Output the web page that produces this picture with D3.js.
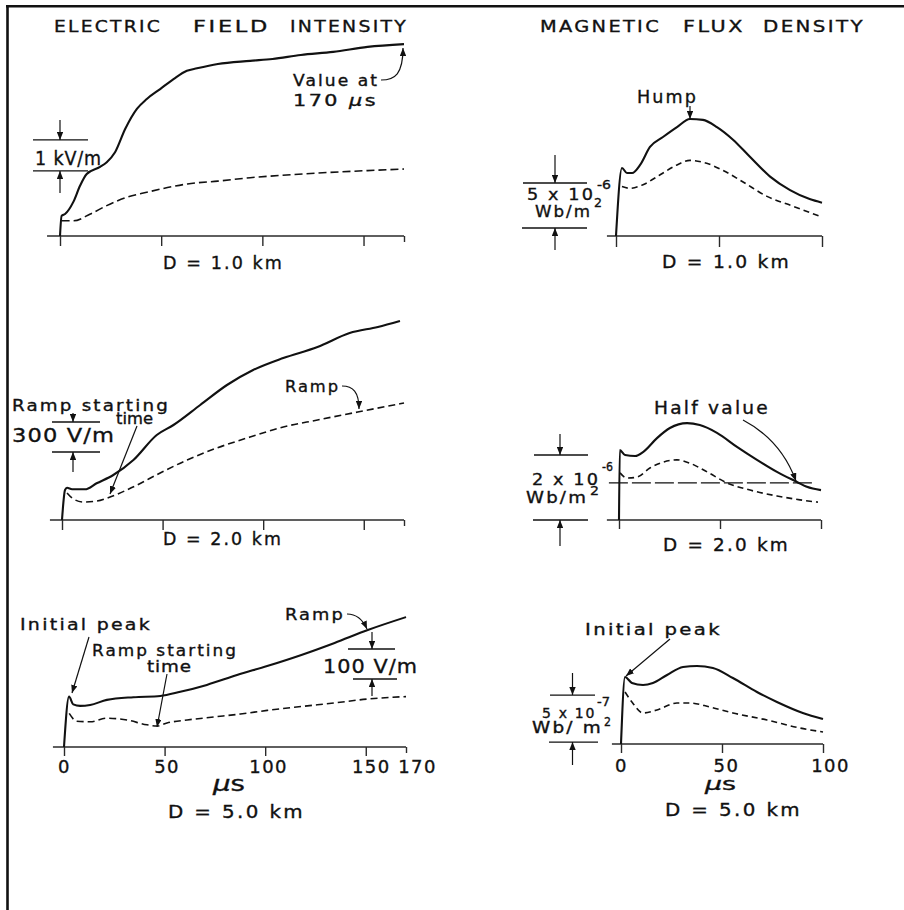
<!DOCTYPE html>
<html>
<head>
<meta charset="utf-8">
<script src="https://cdn.jsdelivr.net/npm/d3@7"></script>
<style>
  html, body { margin: 0; padding: 0; background: #fff; }
  svg { display: block; }
  text { font-family: "DejaVu Sans", "Liberation Sans", sans-serif; fill: #111; stroke: #111; stroke-width: 0.35px; }
</style>
</head>
<body>
<svg id="chart" width="904" height="910"></svg>
<script>
// ---------- time axes (µs) ----------
const eTicks = [0, 50, 100, 150, 170];
const bTicks = [0, 50, 100];
const eTickLabels = ["0", "50", "100", "150", "170"];
const bTickLabels = ["0", "50", "100"];

// ---------- electric field intensity, [time µs, field] ----------
// D = 1.0 km, kV/m
const eField1kmSolid = [[0,0],[0.8,0.65],[2.5,0.71],[6.6,1.10],[9.9,1.62],[13.2,2.0],[19.8,2.23],[23.1,2.38],[27.2,2.70],[32.2,3.45],[38,4.10],[42.9,4.42],[49.5,4.74],[56.1,5.06],[62.7,5.33],[67.7,5.41],[78,5.55],[94,5.65],[105,5.71],[119,5.84],[135,5.94],[152,6.10],[170,6.19]];
const eField1kmDashed = [[0.8,0.49],[6.6,0.49],[15,0.71],[23.1,0.98],[33,1.25],[42.9,1.41],[56,1.60],[63,1.68],[78,1.77],[94,1.88],[110,1.96],[127,2.03],[152,2.11],[170,2.16]];
// D = 2.0 km, V/m
const eField2kmSolid = [[0,0],[1.5,300],[2.5,322],[5,308],[11.4,307],[17.2,367],[25.5,450],[35.5,600],[47.1,850],[55.4,950],[68.7,1150],[82,1350],[95,1500],[110,1620],[127,1730],[143,1870],[157,1930],[168,1990]];
const eField2kmDashed = [[2.5,270],[5,220],[10.4,180],[17.4,190],[23.9,230],[35.3,330],[48.8,470],[62.2,600],[77,720],[93.5,830],[110,930],[127,1000],[147,1080],[170,1170]];
// D = 5.0 km, V/m
const eField5kmSolid = [[0,0],[2.5,168],[4.6,142],[8,137],[13,140],[21.3,157],[34.5,166],[47.9,170],[57.8,184],[71,207],[86,240],[101,270],[118,307],[134.5,347],[151,390],[170,433]];
const eField5kmDashed = [[2.6,112],[6.3,86],[13,84],[21.3,96],[31.3,90],[41.2,74],[46.2,70],[51.2,80],[61.2,90],[74.4,100],[87.7,110],[101,122],[118,135],[134.5,147],[151,160],[170,168]];

// ---------- magnetic flux density, [time µs, flux] ----------
// D = 1.0 km, 10^-6 Wb/m^2
const bFlux1kmSolid = [[0,0],[2.9,7.56],[5.3,7.0],[7.8,7.0],[11.7,7.9],[16.5,9.9],[22.8,11.0],[29.6,12.1],[35.9,13.0],[42.2,12.9],[49,12.1],[56.8,10.7],[65,8.8],[74.8,6.6],[84.5,5.1],[94,4.1],[100,3.7]];
const bFlux1kmDashed = [[2.9,5.5],[6.8,5.3],[13.1,5.7],[21.4,6.8],[29.6,7.9],[35.9,8.4],[42.2,8.2],[51.9,7.3],[61.7,6.0],[73.3,4.4],[86,3.3],[100,2.1]];
// D = 2.0 km, 10^-6 Wb/m^2
const bFlux2kmSolid = [[0,0],[0.4,2.15],[3,2.0],[8,1.97],[11.9,2.09],[18.8,2.52],[25.2,2.83],[33.7,2.98],[40,2.92],[48.5,2.68],[58.4,2.25],[68.3,1.85],[78.2,1.48],[88.1,1.17],[93,1.02],[100,0.92]];
const bFlux2kmDashed = [[0.5,1.45],[4,1.29],[8.9,1.32],[15.3,1.60],[21.8,1.78],[28.7,1.85],[35,1.75],[43.6,1.48],[53.5,1.14],[64.9,0.92],[78.2,0.74],[89.6,0.62],[98.5,0.55]];
const bFlux2kmHalfValue = 1.14;
// D = 5.0 km, 10^-7 Wb/m^2
const bFlux5kmSolid = [[0,0],[2,7.13],[5.4,6.5],[10.9,6.28],[15.8,6.49],[22.8,7.34],[30.7,8.19],[37.6,8.30],[45.5,8.09],[55.4,7.02],[67.3,5.53],[77.2,4.47],[90,3.30],[100,2.66]];
const bFlux5kmDashed = [[2,5.53],[5.4,4.47],[10.9,3.30],[17.8,3.62],[27.7,4.36],[34.2,4.36],[44,3.94],[55.4,3.30],[72.3,2.55],[88.6,1.70],[100,1.28]];

// ---------- scale-bar magnitudes (in each panel's unit) ----------
const eBar1km = 1;    // kV/m
const eBar2km = 300;  // V/m
const eBar5km = 100;  // V/m
const bBar1km = 5;    // x10^-6 Wb/m^2
const bBar2km = 2;    // x10^-6 Wb/m^2
const bBar5km = 5;    // x10^-7 Wb/m^2

const INK = "#111";
const svg = d3.select("#chart");

// arrowhead
svg.append("defs").append("marker")
  .attr("id", "head").attr("viewBox", "0 0 10 8")
  .attr("refX", 10).attr("refY", 4)
  .attr("markerWidth", 8).attr("markerHeight", 6.4)
  .attr("markerUnits", "userSpaceOnUse").attr("orient", "auto")
  .append("path").attr("d", "M0,0L10,4L0,8Z").attr("fill", INK);

// frame
svg.append("line").attr("x1", 7.5).attr("x2", 7.5).attr("y1", 5).attr("y2", 910)
  .attr("stroke", INK).attr("stroke-width", 2.6);
svg.append("line").attr("x1", 6).attr("x2", 904).attr("y1", 6.3).attr("y2", 6.3)
  .attr("stroke", INK).attr("stroke-width", 2.4);

// text helper: fitted to span [x0, x1] on the given baseline
function txt(parent, str, x0, x1, baseline, size, opts = {}) {
  const t = parent.append("text")
    .attr("x", x0).attr("y", baseline).attr("font-size", size)
    .attr("textLength", x1 - x0).attr("lengthAdjust", "spacingAndGlyphs")
    .style("letter-spacing", (opts.ls !== undefined ? opts.ls : 0.12) + "em")
    .style("white-space", "pre");
  t.text(str);
  if (opts.mu) {
    t.append("tspan").attr("font-style", "italic").text("\u03bc");
    t.append("tspan").text("s");
  }
  return t;
}

function arrow(parent, d, w = 1.2) {
  parent.append("path").attr("d", d).attr("fill", "none")
    .attr("stroke", INK).attr("stroke-width", w).attr("marker-end", "url(#head)");
}

// one panel: baseline, ticks, two traces
function panel(cfg) {
  const g = svg.append("g");
  const x = d3.scaleLinear().domain([0, cfg.tMax]).range(cfg.xRange);
  const y = d3.scaleLinear().domain([0, cfg.barValue]).range([cfg.base, cfg.base - cfg.barPx]);

  g.append("line")
    .attr("x1", x(cfg.axisFrom)).attr("x2", x(cfg.tMax))
    .attr("y1", cfg.base).attr("y2", cfg.base)
    .attr("stroke", "#2a2a2a").attr("stroke-width", 1.4);

  const labels = cfg.tickLabels;
  const axis = d3.axisBottom(x)
    .tickValues(cfg.ticks)
    .tickSize(cfg.tickLen)
    .tickSizeOuter(0)
    .tickFormat((d, i) => labels ? labels[i] : "");
  const ax = g.append("g").attr("transform", `translate(0,${cfg.base})`).call(axis);
  ax.select(".domain").remove();
  ax.attr("font-family", null).attr("font-size", null);
  ax.selectAll(".tick line").attr("stroke", "#2a2a2a").attr("stroke-width", 1.4);
  if (cfg.shortTick !== undefined) {
    ax.selectAll(".tick").filter(d => d === cfg.shortTick).select("line").attr("y2", 6);
  }
  ax.selectAll(".tick text")
    .attr("y", cfg.labelOffset).attr("dy", 0)
    .attr("dx", d => (cfg.labelDx && cfg.labelDx[d]) || 0)
    .attr("font-size", 18).attr("fill", INK)
    .style("letter-spacing", "0.08em");

  const line = d3.line().x(d => x(d[0])).y(d => y(d[1])).curve(d3.curveMonotoneX);
  g.append("path").datum(cfg.dashed).attr("d", line)
    .attr("fill", "none").attr("stroke", INK).attr("stroke-width", 1.6)
    .attr("stroke-dasharray", cfg.dash);
  g.append("path").datum(cfg.solid).attr("d", line)
    .attr("fill", "none").attr("stroke", INK).attr("stroke-width", 2.1)
    .attr("stroke-linejoin", "round");
  return { g, x, y };
}

// vertical scale bar built from the panel's y scale
function scaleBar(p, bar) {
  const yTop = p.y(bar.base + bar.value), yBot = p.y(bar.base);
  const s = p.g;
  s.append("line").attr("x1", bar.top[0]).attr("x2", bar.top[1]).attr("y1", yTop).attr("y2", yTop)
    .attr("stroke", INK).attr("stroke-width", 1.3);
  s.append("line").attr("x1", bar.bot[0]).attr("x2", bar.bot[1]).attr("y1", yBot).attr("y2", yBot)
    .attr("stroke", INK).attr("stroke-width", 1.3);
  arrow(s, `M${bar.ax},${bar.from[0]}L${bar.ax},${yTop}`);
  arrow(s, `M${bar.ax},${bar.from[1]}L${bar.ax},${yBot}`);
}

// ================= ELECTRIC FIELD INTENSITY =================
const tl = svg.append("g");
txt(tl, "ELECTRIC", 54, 162, 32, 16.5);
txt(tl, "FIELD", 193, 270, 32, 16.5);
txt(tl, "INTENSITY", 290, 408, 32, 16.5);

// D = 1.0 km
const e1 = panel({ tMax: 170, xRange: [60, 404], base: 236, barValue: eBar1km, barPx: 31,
  axisFrom: -6.4, ticks: eTicks, tickLen: 10, shortTick: 170, dash: "8,4",
  solid: eField1kmSolid, dashed: eField1kmDashed });
scaleBar(e1, { base: 2.1, value: eBar1km, top: [33, 88], bot: [33, 88], ax: 60, from: [120, 193] });
txt(e1.g, "1 kV/m", 35, 102, 165, 20, { ls: 0.05 });
txt(e1.g, "Value at", 293, 379, 86, 15);
txt(e1.g, "170 ", 293, 378, 106, 15, { mu: true });
arrow(e1.g, `M381,80C395,80 ${e1.x(170) - 1},74 ${e1.x(170) - 1},${e1.y(eField1kmSolid[eField1kmSolid.length - 1][1]) + 4}`);
txt(e1.g, "D = 1.0 km", 163, 284, 269, 18);

// D = 2.0 km
const e2 = panel({ tMax: 170, xRange: [62, 404], base: 520, barValue: eBar2km, barPx: 30,
  axisFrom: -6, ticks: eTicks, tickLen: 10, shortTick: 170, dash: "7,4",
  solid: eField2kmSolid, dashed: eField2kmDashed });
scaleBar(e2, { base: 680, value: eBar2km, top: [52, 100], bot: [52, 100], ax: 73, from: [413, 472] });
txt(e2.g, "Ramp starting", 12, 170, 411, 16);
txt(e2.g, "time", 116, 153, 424, 15.5, { ls: 0 });
txt(e2.g, "300 V/m", 12, 115, 442, 20, { ls: 0.05 });
txt(e2.g, "Ramp", 285, 340, 392, 16);
arrow(e2.g, "M342,386C353,386 359,392 359,409");
arrow(e2.g, "M137,426L110,494");
txt(e2.g, "D = 2.0 km", 163, 283, 545, 18);

// D = 5.0 km
const e5 = panel({ tMax: 170, xRange: [64, 406], base: 747, barValue: eBar5km, barPx: 30,
  axisFrom: -5.5, ticks: eTicks, tickLen: 9, shortTick: 170, dash: "7,4",
  tickLabels: eTickLabels, labelOffset: 26, labelDx: { 50: 2, 100: 3, 150: 5, 170: 11 },
  solid: eField5kmSolid, dashed: eField5kmDashed });
scaleBar(e5, { base: 226.7, value: eBar5km, top: [348, 395], bot: [353, 397], ax: 372, from: [632, 696] });
txt(e5.g, "Initial peak", 20, 152, 630, 16);
txt(e5.g, "Ramp starting", 92, 238, 656, 16);
txt(e5.g, "time", 147, 192, 672, 16, { ls: 0.05 });
txt(e5.g, "Ramp", 285, 345, 620, 16);
txt(e5.g, "100 V/m", 323, 418, 673, 20, { ls: 0.05 });
arrow(e5.g, "M89,637L72,693");
arrow(e5.g, "M167,674L157,727");
arrow(e5.g, "M347,614C357,614 363,620 367,629");
txt(e5.g, "", 213, 245, 791, 21, { mu: true, ls: 0 });
txt(e5.g, "D = 5.0 km", 168, 305, 818, 18);

// ================= MAGNETIC FLUX DENSITY =================
const tr = svg.append("g");
txt(tr, "MAGNETIC", 540, 661, 32, 16.5);
txt(tr, "FLUX", 683, 745, 32, 16.5);
txt(tr, "DENSITY", 763, 865, 32, 16.5);

// D = 1.0 km
const b1 = panel({ tMax: 100, xRange: [616, 822], base: 236, barValue: bBar1km, barPx: 45,
  axisFrom: -4.4, ticks: bTicks, tickLen: 11, dash: "6,4",
  solid: bFlux1kmSolid, dashed: bFlux1kmDashed });
scaleBar(b1, { base: 0.89, value: bBar1km, top: [523, 587], bot: [522, 587], ax: 555, from: [155, 250] });
txt(b1.g, "5 x 10", 527, 595, 200, 16);
txt(b1.g, "-6", 597, 611, 189, 13, { ls: 0 });
txt(b1.g, "Wb/m", 535, 592, 217, 16);
txt(b1.g, "2", 594, 602, 207, 13, { ls: 0 });
txt(b1.g, "Hump", 637, 698, 103, 18);
arrow(b1.g, "M690,106L690,119");
txt(b1.g, "D = 1.0 km", 662, 791, 268, 18);

// D = 2.0 km
const b2 = panel({ tMax: 100, xRange: [619, 821], base: 520, barValue: bBar2km, barPx: 65,
  axisFrom: -6, ticks: bTicks, tickLen: 9, dash: "6,4",
  solid: bFlux2kmSolid, dashed: bFlux2kmDashed });
b2.g.append("line")
  .attr("x1", b2.x(-5)).attr("x2", b2.x(96))
  .attr("y1", b2.y(bFlux2kmHalfValue)).attr("y2", b2.y(bFlux2kmHalfValue))
  .attr("stroke", INK).attr("stroke-width", 1.3).attr("stroke-dasharray", "19,4");
scaleBar(b2, { base: 0, value: bBar2km, top: [534, 588], bot: [533, 588], ax: 560, from: [434, 546] });
txt(b2.g, "2 x 10", 532, 600, 485, 16);
txt(b2.g, "-6", 602, 613, 471, 13, { ls: 0 });
txt(b2.g, "Wb/m", 526, 588, 503, 16);
txt(b2.g, "2", 590, 599, 495, 13, { ls: 0 });
txt(b2.g, "Half value", 654, 770, 414, 17);
arrow(b2.g, "M743,420Q781,440 796,481");
txt(b2.g, "D = 2.0 km", 663, 790, 551, 18);

// D = 5.0 km
const b5 = panel({ tMax: 100, xRange: [621, 823], base: 744, barValue: bBar5km, barPx: 47,
  axisFrom: -4.5, ticks: bTicks, tickLen: 9, dash: "6,4",
  tickLabels: bTickLabels, labelOffset: 28, labelDx: { 50: 4, 100: 7 },
  solid: bFlux5kmSolid, dashed: bFlux5kmDashed });
scaleBar(b5, { base: 0.21, value: bBar5km, top: [550, 595], bot: [549, 598], ax: 572.5, from: [673, 765] });
txt(b5.g, "5 x 10", 542, 596, 718, 14);
txt(b5.g, "-7", 597, 610, 706, 12, { ls: 0 });
txt(b5.g, "Wb/ m", 532, 603, 733, 15);
txt(b5.g, "2", 604, 611, 726, 12, { ls: 0 });
txt(b5.g, "Initial peak", 585, 722, 635, 16);
arrow(b5.g, "M670,639L626,676");
txt(b5.g, "", 705, 736, 790, 18, { mu: true, ls: 0 });
txt(b5.g, "D = 5.0 km", 665, 802, 816, 18);
</script>
</body>
</html>
